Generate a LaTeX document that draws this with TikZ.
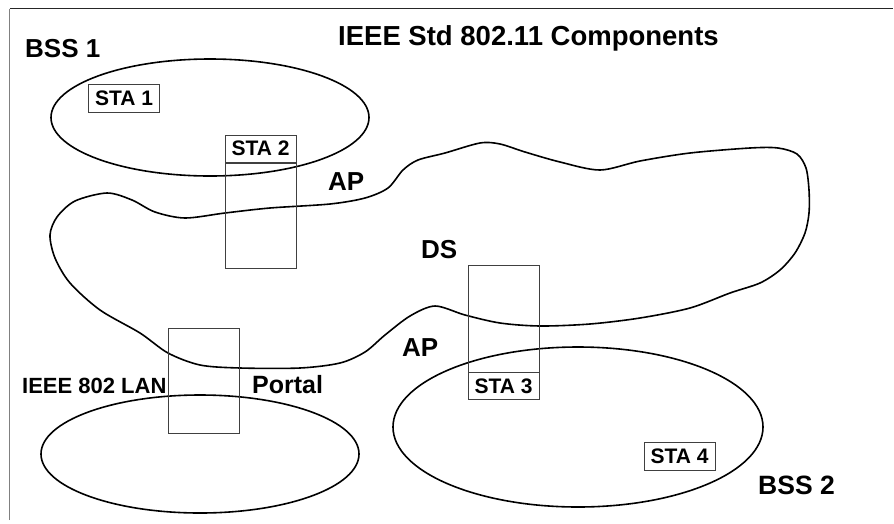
\documentclass[tikz,border=0pt]{standalone}
\usepackage{fontspec}
\setmainfont{Liberation Sans}

\begin{document}
\begin{tikzpicture}[x=1pt,y=-1pt,
  curve/.style={black,line width=1.6pt},
  stabox/.style={draw=black!75,line width=0.9pt,minimum width=71pt,minimum height=27pt,inner sep=0pt,font=\fontsize{21}{21}\selectfont\bfseries},
  apbox/.style={draw=black!75,line width=0.9pt,minimum width=71pt,inner sep=0pt},
  biglabel/.style={anchor=base west,inner sep=0pt,font=\fontsize{26}{26}\selectfont\bfseries}]
\useasboundingbox (0,0) rectangle (894,523);
% frame
\draw[black!50,line width=1.2pt] (9.5,520) -- (9.5,8.5);
\draw[black!85,line width=1.2pt] (9.5,8.5) -- (893,8.5);
% basic service sets and the wired LAN
\draw[curve] (210,117.5) ellipse (159 and 58.5);
\draw[curve] (578,427) ellipse (185 and 80);
\draw[curve] (200,454) ellipse (159 and 59);
% distribution system
\draw[curve] plot[smooth cycle,tension=0.5] coordinates {
  (50,235) (57,217) (75,201) (107,193) (132,200) (155,212) (185,218)
  (225,213) (270,208) (330,204) (365,198) (388,188) (403,170) (418,160)
  (445,153) (480,143) (500,144) (525,152) (560,162) (600,170) (640,161)
  (690,153) (750,148) (778,148) (797,154) (806,168) (809,190) (809,213)
  (805,233) (795,253) (780,270) (760,283) (730,293) (690,308) (640,318)
  (590,324) (540,326) (500,323) (465,315) (435,306) (410,316) (385,335)
  (365,352) (340,363) (300,368) (240,368) (200,365) (168,353) (140,333)
  (100,310) (70,283) (55,258)};
% stations and access points
\node[stabox,minimum height=28pt] (sta1) at (124,98) {STA 1};
\node[apbox,minimum height=105pt] (ap1) at (260.5,215.5) {};
\node[stabox,anchor=south] (sta2) at (ap1.north) {STA 2};
\node[apbox,minimum height=107pt] (ap2) at (503.5,318.5) {};
\node[stabox,anchor=north] (sta3) at (ap2.south) {STA 3};
\node[stabox,minimum height=28pt] (sta4) at (679.5,456) {STA 4};
\node[apbox,minimum height=105pt] (portalbox) at (203.5,380.5) {};
% labels
\node[biglabel,font=\fontsize{27.5}{27.5}\selectfont\bfseries] (title) at (338,45) {IEEE Std 802.11 Components};
\node[biglabel] (bss1) at (25,57) {BSS 1};
\node[biglabel] (ap1label) at (328,190) {AP};
\node[biglabel] (ds) at (421,258) {DS};
\node[biglabel] (ap2label) at (402,356) {AP};
\node[biglabel,font=\fontsize{25}{25}\selectfont\bfseries] (portal) at (252,393) {Portal};
\node[biglabel,font=\fontsize{22}{22}\selectfont\bfseries] (lan) at (22,393) {IEEE 802 LAN};
\node[biglabel,font=\fontsize{26.5}{26.5}\selectfont\bfseries] (bss2) at (758,494) {BSS 2};
\end{tikzpicture}
\end{document}
